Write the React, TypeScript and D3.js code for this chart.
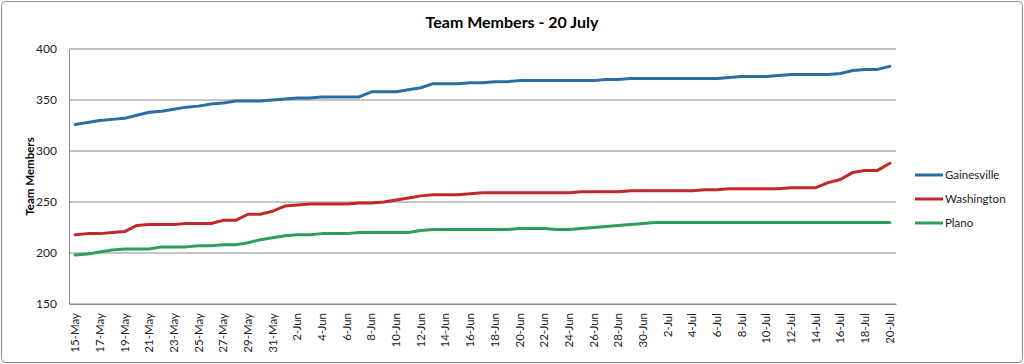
import React, { useRef, useEffect } from "react";
import * as d3 from "d3";

// 15-May .. 20-Jul, one point per day
const months = [
  { name: "May", from: 15, to: 31 },
  { name: "Jun", from: 1, to: 30 },
  { name: "Jul", from: 1, to: 20 },
];
const dates: string[] = [];
months.forEach((m) => {
  for (let d = m.from; d <= m.to; d++) dates.push(d + "-" + m.name);
});

const gainesville = [
  326, 328, 330, 331, 332, 335, 338, 339, 341, 343, 344, 346, 347, 349, 349, 349, 350,
  351, 352, 352, 353, 353, 353, 353, 358, 358, 358, 360, 362, 366, 366, 366, 367, 367,
  368, 368, 369, 369, 369, 369, 369, 369, 369, 370, 370, 371, 371,
  371, 371, 371, 371, 371, 371, 372, 373, 373, 373, 374, 375, 375, 375, 375, 376, 379,
  380, 380, 383,
];
const washington = [
  218, 219, 219, 220, 221, 227, 228, 228, 228, 229, 229, 229, 232, 232, 238, 238, 241,
  246, 247, 248, 248, 248, 248, 249, 249, 250, 252, 254, 256, 257, 257, 257, 258, 259,
  259, 259, 259, 259, 259, 259, 259, 260, 260, 260, 260, 261, 261,
  261, 261, 261, 261, 262, 262, 263, 263, 263, 263, 263, 264, 264, 264, 269, 272, 279,
  281, 281, 288,
];
const plano = [
  198, 199, 201, 203, 204, 204, 204, 206, 206, 206, 207, 207, 208, 208, 210, 213, 215,
  217, 218, 218, 219, 219, 219, 220, 220, 220, 220, 220, 222, 223, 223, 223, 223, 223,
  223, 223, 224, 224, 224, 223, 223, 224, 225, 226, 227, 228, 229,
  230, 230, 230, 230, 230, 230, 230, 230, 230, 230, 230, 230, 230, 230, 230, 230, 230,
  230, 230, 230,
];

const seriesNames = ["Gainesville", "Washington", "Plano"];
const seriesValues = [gainesville, washington, plano];
const seriesColors = ["#2a6ea3", "#c0282b", "#2e9e5e"];
const yTicks = [150, 200, 250, 300, 350, 400];

const W = 1024;
const H = 364;

const App = () => {
  const ref = useRef<SVGSVGElement>(null);

  useEffect(() => {
    const svg = d3.select(ref.current);
    svg.selectAll("*").remove();
    const font = "Lato, 'Liberation Sans', sans-serif";
    const margin = { top: 49, right: 128, bottom: 60, left: 69 };
    const iw = W - margin.left - margin.right;
    const ih = H - margin.top - margin.bottom;

    svg
      .append("rect")
      .attr("x", 1.5)
      .attr("y", 1.5)
      .attr("width", W - 3)
      .attr("height", H - 3)
      .attr("rx", 4)
      .attr("fill", "#fff")
      .attr("stroke", "#8c8c8c");

    svg
      .append("text")
      .attr("x", W / 2)
      .attr("y", 28)
      .attr("text-anchor", "middle")
      .style("font-family", font)
      .style("font-weight", "bold")
      .style("font-size", "16px")
      .text("Team Members - 20 July");

    const g = svg.append("g").attr("transform", `translate(${margin.left},${margin.top})`);

    const x = d3.scaleBand().domain(dates).range([0, iw]);
    const y = d3.scaleLinear().domain([150, 400]).range([ih, 0]);

    // gridlines
    g.selectAll(".grid")
      .data(yTicks)
      .enter()
      .append("line")
      .attr("x1", 0)
      .attr("x2", iw)
      .attr("y1", (d) => y(d))
      .attr("y2", (d) => y(d))
      .attr("stroke", "#8a8a8a")
      .attr("stroke-width", 1);

    const yAxis = g
      .append("g")
      .call(d3.axisLeft(y).tickValues(yTicks).tickSize(0).tickPadding(12));
    yAxis.select(".domain").attr("stroke", "#8a8a8a");
    yAxis.selectAll("text").style("font-family", font).style("font-size", "12px").attr("fill", "#222");

    const xAxis = g
      .append("g")
      .attr("transform", `translate(0,${ih})`)
      .call(
        d3
          .axisBottom(x)
          .tickValues(dates.filter((d, i) => i % 2 === 0))
          .tickSize(0)
          .tickPadding(0)
      );
    xAxis.select(".domain").attr("stroke", "#8a8a8a");
    xAxis
      .selectAll("text")
      .style("font-family", font)
      .style("font-size", "11.5px")
      .attr("fill", "#222")
      .attr("transform", "translate(4,9) rotate(-90)")
      .attr("dy", "0")
      .attr("y", 0)
      .style("text-anchor", "end");

    svg
      .append("text")
      .attr("transform", `translate(34,${margin.top + ih / 2}) rotate(-90)`)
      .attr("text-anchor", "middle")
      .style("font-family", font)
      .style("font-weight", "bold")
      .style("font-size", "11.5px")
      .text("Team Members");

    const line = d3
      .line<number>()
      .x((d, i) => (x(dates[i]) as number) + x.bandwidth() / 2)
      .y((d) => y(d));

    seriesValues.forEach((vals, k) => {
      g.append("path")
        .datum(vals)
        .attr("fill", "none")
        .attr("stroke", seriesColors[k])
        .attr("stroke-width", 3)
        .attr("stroke-linejoin", "round")
        .attr("stroke-linecap", "round")
        .attr("d", line);
    });

    const legend = svg.append("g").attr("transform", "translate(915,175)");
    seriesNames.forEach((name, k) => {
      const row = legend.append("g").attr("transform", `translate(0,${k * 24})`);
      row
        .append("line")
        .attr("x1", 0)
        .attr("x2", 28)
        .attr("stroke", seriesColors[k])
        .attr("stroke-width", 3);
      row
        .append("text")
        .attr("x", 30)
        .attr("dy", "0.35em")
        .style("font-family", font)
        .style("font-size", "11.5px")
        .attr("fill", "#222")
        .text(name);
    });
  }, []);

  return (
    <svg
      ref={ref}
      width={W}
      height={H}
      style={{ position: "absolute", left: 0, top: 0, display: "block" }}
    />
  );
};

export default App;
